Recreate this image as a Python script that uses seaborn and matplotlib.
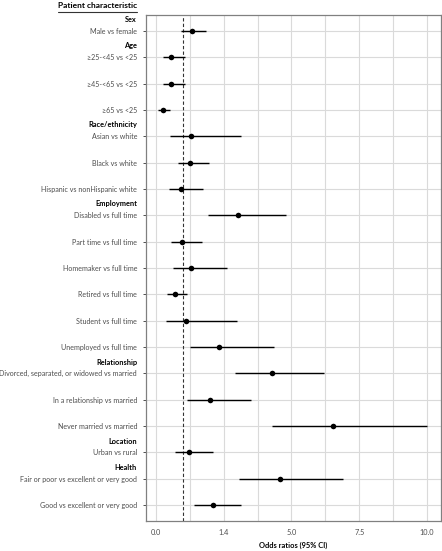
import matplotlib
matplotlib.use("Agg")
import matplotlib.pyplot as plt
import seaborn as sns
import pandas as pd
import numpy as np

labels = [
    "Male vs female",
    "\u226525-<45 vs <25",
    "\u226545-<65 vs <25",
    "\u226565 vs <25",
    "Asian vs white",
    "Black vs white",
    "Hispanic vs nonHispanic white",
    "Disabled vs full time",
    "Part time vs full time",
    "Homemaker vs full time",
    "Retired vs full time",
    "Student vs full time",
    "Unemployed vs full time",
    "Divorced, separated, or widowed vs married",
    "In a relationship vs married",
    "Never married vs married",
    "Urban vs rural",
    "Fair or poor vs excellent or very good",
    "Good vs excellent or very good",
]
odds = [1.33, 0.55, 0.55, 0.26, 1.29, 1.26, 0.92, 3.03, 0.97, 1.31, 0.70, 1.10,
        2.34, 4.27, 1.99, 6.53, 1.23, 4.59, 2.11]
ci_low = [0.93, 0.28, 0.28, 0.10, 0.53, 0.83, 0.49, 1.94, 0.55, 0.65, 0.43, 0.38,
          1.26, 2.91, 1.15, 4.28, 0.71, 3.07, 1.41]
ci_high = [1.84, 1.06, 1.06, 0.54, 3.13, 1.98, 1.75, 4.79, 1.71, 2.64, 1.15, 3.01,
           4.37, 6.21, 3.51, 10.01, 2.12, 6.90, 3.14]
headers = ["Sex", "Age", "Race/ethnicity", "Employment", "Relationship", "Location", "Health"]
header_before = ["Male vs female", "\u226525-<45 vs <25", "Asian vs white",
                 "Disabled vs full time", "Divorced, separated, or widowed vs married",
                 "Urban vs rural", "Fair or poor vs excellent or very good"]
xtick_values = [0.0, 2.5, 5.0, 7.5, 10.0]
xtick_labels = ["0.0", "1.4", "5.0", "7.5", "10.0"]
reference_line = 1.0

sns.set_theme(style="white")
font = ["Lato", "DejaVu Sans"]
plt.rcParams["font.family"] = font
fs = 5.1

df = pd.DataFrame({"label": labels, "or": odds, "lo": ci_low, "hi": ci_high})
df["pos"] = np.arange(len(df))

fig = plt.figure(figsize=(4.42, 5.51), dpi=100)
ax = fig.add_axes([145.7 / 442, 1 - 521 / 551, (441 - 145.7) / 442, (521 - 15) / 551])

# grid
for v in [0, 1.25, 2.5, 3.75, 5, 6.25, 7.5, 8.75, 10]:
    ax.axvline(v, color="#dadada", lw=0.8, zorder=0)
for p in df["pos"]:
    ax.axhline(p, color="#dadada", lw=0.8, zorder=0)

ax.axvline(reference_line, color="#333333", lw=0.8, ls=(0, (3, 2)), zorder=1)
ax.hlines(df["pos"], df["lo"], df["hi"], color="black", lw=1.0, zorder=2)
sns.scatterplot(data=df, x="or", y="pos", ax=ax, color="black", s=16,
                edgecolor="black", linewidth=0, zorder=3, legend=False)

ax.set_ylim(len(df) - 0.4, -0.6)
ax.set_xlim(-0.37, 10.51)
ax.set_yticks(df["pos"])
ax.set_yticklabels(df["label"], fontsize=fs, color="#4d4d4d")
ax.set_xticks(xtick_values)
ax.set_xticklabels(xtick_labels, fontsize=5.3, color="#4d4d4d")
ax.tick_params(axis="y", length=2.2, width=0.6, color="#333333", pad=4.0, left=True)
ax.tick_params(axis="x", length=0, pad=5.5)
ax.set_xlabel("Odds ratios (95% CI)", fontsize=5.4, fontweight="bold", color="black", labelpad=4.5)
ax.set_ylabel("")
for s in ax.spines.values():
    s.set_color("#808080")
    s.set_linewidth(0.9)

for h, lab in zip(headers, header_before):
    p = labels.index(lab)
    ax.annotate(h, xy=(0, p - 0.43), xycoords=("axes fraction", "data"),
                xytext=(-6.2, 0), textcoords="offset points",
                ha="right", va="center", fontsize=5.3, fontweight="bold", color="black",
                annotation_clip=False)

fig.text(58 / 442, 1 - 6 / 551, "Patient characteristic", fontsize=6.0, fontweight="bold",
         ha="left", va="center", color="black")
fig.add_artist(plt.Line2D([58 / 442, 137 / 442], [1 - 12 / 551, 1 - 12 / 551],
                          color="#333333", lw=0.8, transform=fig.transFigure))

fig.savefig("out.png", dpi=100)
